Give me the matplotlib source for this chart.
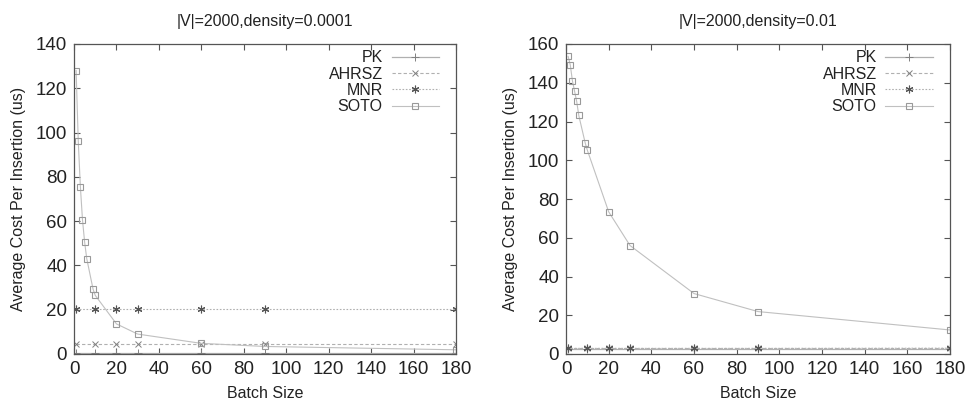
import matplotlib
matplotlib.use("Agg")
import matplotlib.pyplot as plt

plt.rcParams['font.family'] = ['Liberation Sans', 'DejaVu Sans']

# Data
batch_soto = [1, 2, 3, 4, 5, 6, 9, 10, 20, 30, 60, 90, 180]
batch_other = [1, 10, 20, 30, 60, 90, 180]

left_title = "|V|=2000,density=0.0001"
left_pk = [0.4, 0.4, 0.4, 0.4, 0.4, 0.4, 0.4]
left_ahrsz = [4.7, 4.7, 4.7, 4.7, 4.7, 4.7, 4.7]
left_mnr = [20.3, 20.3, 20.3, 20.3, 20.3, 20.3, 20.3]
left_soto = [128, 96.3, 75.6, 60.6, 50.6, 43.1, 29.2, 26.5, 13.6, 9.0, 4.8, 3.4, 1.9]

right_title = "|V|=2000,density=0.01"
right_pk = [2.6, 2.6, 2.6, 2.6, 2.6, 2.6, 2.6]
right_ahrsz = [3.2, 3.2, 3.2, 3.2, 3.2, 3.2, 3.2]
right_mnr = [2.9, 2.9, 2.9, 2.9, 2.9, 2.9, 3.0]
right_soto = [153.6, 149.2, 141.1, 135.7, 130.4, 123.1, 108.9, 105.2, 73.4, 56.0, 31.2, 21.9, 12.4]

xticks = list(range(0, 181, 20))
left_yticks = list(range(0, 141, 20))
right_yticks = list(range(0, 161, 20))

fig = plt.figure(figsize=(9.66, 4.01), dpi=100)
axL = fig.add_axes([74/966, 1 - 354/401, 382/966, 310/401])
axR = fig.add_axes([566/966, 1 - 354/401, 384/966, 310/401])

line_c = '#b0b0b0'
mark_c = '#808080'

def draw(ax, title, pk, ahrsz, mnr, soto, yticks):
    ax.plot(batch_other, pk, color=line_c, lw=0.9, ls='-', marker='+',
            ms=6, mec=mark_c, mew=0.7, label='PK')
    ax.plot(batch_other, ahrsz, color=line_c, lw=0.8, ls=(0, (3, 2)), marker='x',
            ms=4.5, mec=mark_c, mew=0.7, label='AHRSZ')
    ax.plot(batch_other, mnr, color=line_c, lw=0.8, ls=(0, (1.5, 1.5)), marker=(6, 2, 0),
            ms=5.5, mec='#555555', mew=0.8, label='MNR')
    ax.plot(batch_soto, soto, color='#c0c0c0', lw=0.8, ls='-', marker='s',
            ms=5, mfc='none', mec='#999999', mew=0.8, label='SOTO')
    ax.set_xlim(0, 180)
    ax.set_ylim(0, yticks[-1])
    ax.set_xticks(xticks)
    ax.set_yticks(yticks)
    ax.tick_params(direction='in', top=True, right=True, length=4, width=0.8,
                   color='#555555', labelsize=13.5, labelcolor='#222222', pad=5)
    for s in ax.spines.values():
        s.set_color('#555555')
        s.set_linewidth(0.9)
    ax.set_title(title, fontsize=11.5, color='#222222', pad=13)
    ax.set_xlabel('Batch Size', fontsize=11.5, color='#222222', labelpad=6)
    ax.set_ylabel('Average Cost Per Insertion (us)', fontsize=11.5, color='#222222', labelpad=7)
    leg = ax.legend(loc='upper right', bbox_to_anchor=(0.965, 0.99), markerfirst=False,
                    frameon=False, fontsize=11.5, handlelength=3.0, labelspacing=0.08,
                    borderaxespad=0.0, borderpad=0.2, handletextpad=0.55)
    for t in leg.get_texts():
        t.set_ha('right')
        t.set_color('#222222')

draw(axL, left_title, left_pk, left_ahrsz, left_mnr, left_soto, left_yticks)
draw(axR, right_title, right_pk, right_ahrsz, right_mnr, right_soto, right_yticks)

fig.savefig('out.png', dpi=100)
